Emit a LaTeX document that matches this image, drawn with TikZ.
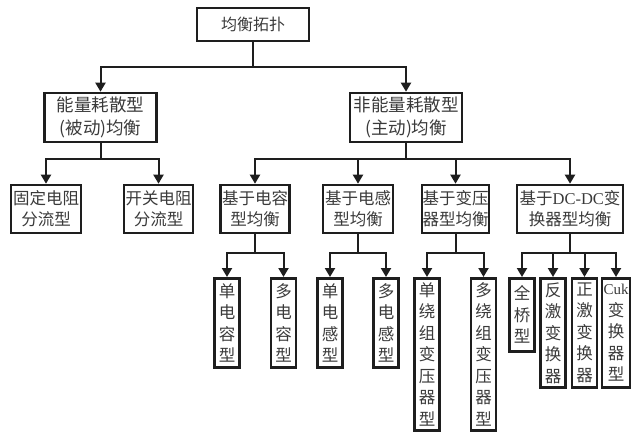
\documentclass[tikz,border=0pt]{standalone}
\usepackage{fontspec}
\setmainfont{Liberation Serif}
\newfontfamily\cjk{Noto Sans CJK SC}
\usetikzlibrary{arrows.meta}
\definecolor{ink}{HTML}{1E1E1E}
\definecolor{txt}{HTML}{3A3A3A}
\begin{document}
\begin{tikzpicture}[x=1pt,y=-1pt,
  box/.style={draw=ink,line width=2.6pt,inner sep=0pt,text=txt,align=center},
  lvone/.style={box,font=\cjk\fontsize{16}{20}\selectfont},
  lvtwo/.style={box,minimum width=112pt,minimum height=49pt,font=\cjk\fontsize{17.5}{23}\selectfont},
  lvthree/.style={box,minimum height=48pt,font=\fontsize{16.5}{21}\selectfont\cjk},
  lvfour/.style={box,minimum width=25pt,font=\fontsize{16.5}{21.5}\selectfont\cjk},
  conn/.style={draw=ink,line width=2pt},
  arr/.style={conn,-{Triangle[width=10pt,length=9pt]}}
]
\useasboundingbox (0,0) rectangle (636,432);
% level 1
\node[lvone,minimum width=112pt,minimum height=33pt] (top) at (253,24.5) {均衡拓扑};
% level 2
\node[lvtwo] (pas) at (100.5,117.5) {能量耗散型\\(被动)均衡};
\node[lvtwo] (act) at (406,117.5) {非能量耗散型\\(主动)均衡};
% level 3
\node[lvthree,minimum width=70pt] (fix) at (46,209) {固定电阻\\分流型};
\node[lvthree,minimum width=69pt] (swr) at (158.5,209) {开关电阻\\分流型};
\node[lvthree,minimum width=69pt] (cap) at (255,209) {基于电容\\型均衡};
\node[lvthree,minimum width=70pt] (ind) at (358,209) {基于电感\\型均衡};
\node[lvthree,minimum width=67pt] (trf) at (455.5,209) {基于变压\\器型均衡};
\node[lvthree,minimum width=106pt] (dcdc) at (570,209) {基于{\rmfamily DC-DC}变\\换器型均衡};
% level 4
\node[lvfour,minimum height=89pt,anchor=north] (c1) at (227,277) {单\\电\\容\\型};
\node[lvfour,minimum height=89pt,anchor=north] (c2) at (283.5,277) {多\\电\\容\\型};
\node[lvfour,minimum height=89pt,anchor=north] (i1) at (330,277) {单\\电\\感\\型};
\node[lvfour,minimum height=89pt,anchor=north] (i2) at (386,277) {多\\电\\感\\型};
\node[lvfour,minimum height=152pt,anchor=north] (t1) at (427,277) {单\\绕\\组\\变\\压\\器\\型};
\node[lvfour,minimum height=152pt,anchor=north] (t2) at (483.5,277) {多\\绕\\组\\变\\压\\器\\型};
\node[lvfour,minimum height=73pt,anchor=north] (d1) at (522,277) {全\\桥\\型};
\node[lvfour,minimum height=109pt,anchor=north] (d2) at (553,277) {反\\激\\变\\换\\器};
\node[lvfour,minimum height=109pt,anchor=north] (d3) at (584.5,277) {正\\激\\变\\换\\器};
\node[lvfour,minimum width=28pt,minimum height=109pt,anchor=north] (d4) at (616,277) {{\rmfamily\fontsize{15}{21.5}\selectfont Cuk}\\变\\换\\器\\型};
% bus levels
\coordinate (b1) at (0,67);
\coordinate (b2) at (0,159);
\coordinate (b3) at (0,253);
% connectors
\foreach \c in {pas,act} \draw[arr] (top.south) -- (top.south |- b1) -| (\c.north);
\foreach \c in {fix,swr} \draw[arr] (pas.south) -- (pas.south |- b2) -| (\c.north);
\foreach \c in {cap,ind,trf,dcdc} \draw[arr] (act.south) -- (act.south |- b2) -| (\c.north);
\foreach \c in {c1,c2} \draw[arr] (cap.south) -- (cap.south |- b3) -| (\c.north);
\foreach \c in {i1,i2} \draw[arr] (ind.south) -- (ind.south |- b3) -| (\c.north);
\foreach \c in {t1,t2} \draw[arr] (trf.south) -- (trf.south |- b3) -| (\c.north);
\foreach \c in {d1,d2,d3,d4} \draw[arr] (dcdc.south) -- (dcdc.south |- b3) -| (\c.north);
\end{tikzpicture}
\end{document}
